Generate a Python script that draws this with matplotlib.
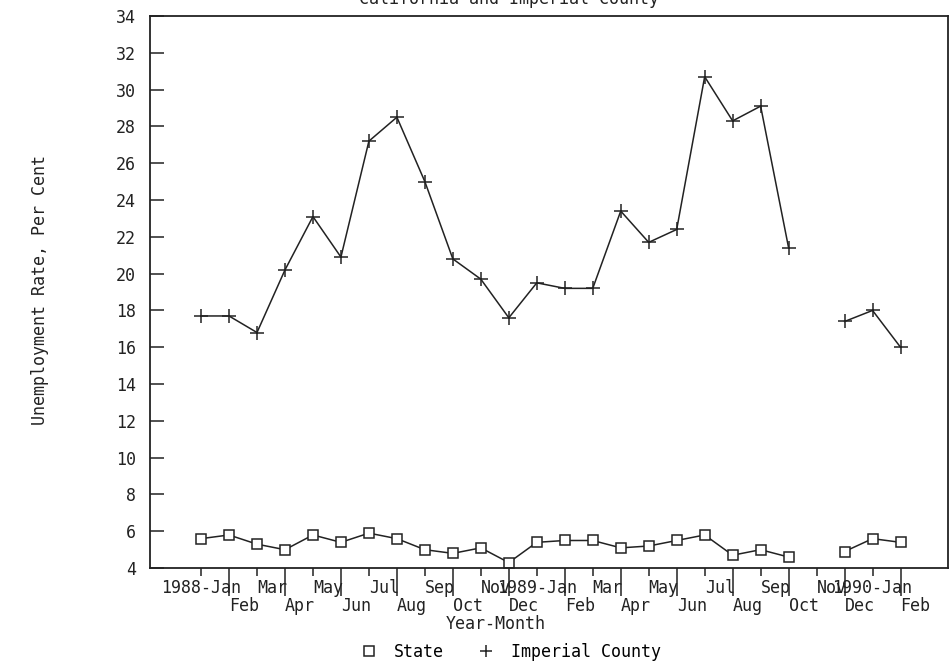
import numpy as np
import matplotlib
matplotlib.use('Agg')
import matplotlib.pyplot as plt
from matplotlib.lines import Line2D

# Month labels, 1988-Jan .. 1990-Feb (1989-Nov has no data)
months = ['1988-Jan', 'Feb', 'Mar', 'Apr', 'May', 'Jun', 'Jul', 'Aug',
          'Sep', 'Oct', 'Nov', 'Dec',
          '1989-Jan', 'Feb', 'Mar', 'Apr', 'May', 'Jun', 'Jul', 'Aug',
          'Sep', 'Oct', 'Nov', 'Dec',
          '1990-Jan', 'Feb']

state = [5.6, 5.8, 5.3, 5.0, 5.8, 5.4, 5.9, 5.6, 5.0, 4.8, 5.1, 4.3,
         5.4, 5.5, 5.5, 5.1, 5.2, 5.5, 5.8, 4.7, 5.0, 4.6, np.nan, 4.9,
         5.6, 5.4]

imperial = [17.7, 17.7, 16.8, 20.2, 23.1, 20.9, 27.2, 28.5, 25.0, 20.8,
            19.7, 17.6, 19.5, 19.2, 19.2, 23.4, 21.7, 22.4, 30.7, 28.3,
            29.1, 21.4, np.nan, 17.4, 18.0, 16.0]

yticks = list(range(4, 35, 2))

FONT = 'DejaVu Sans Mono'
FS = 12
INK = '#222222'

plt.rcParams['font.family'] = FONT
plt.rcParams['font.size'] = FS

fig = plt.figure(figsize=(9.5, 6.66), dpi=100)
ax = fig.add_axes([0.158, 0.147, 0.840, 0.829])

x = np.arange(len(months))

ax.plot(x, state, color=INK, lw=1.1, marker='s', ms=6.5,
        mfc='white', mec=INK, mew=1.1)
ax.plot(x, imperial, color=INK, lw=1.1, marker='+', ms=10, mew=1.1)

ax.set_xlim(-1.82, 26.7)
ax.set_ylim(4, 34)
ax.set_yticks(yticks)
ax.tick_params(axis='y', direction='in', length=10, width=1.1,
               pad=10, colors=INK)

# odd months on the upper row, even months on the lower row
ax.set_xticks(x[0::2])
ax.set_xticklabels(months[0::2])
ax.set_xticks(x[1::2], minor=True)
ax.set_xticklabels(months[1::2], minor=True)
ax.tick_params(axis='x', which='major', direction='out', length=6,
               width=1.1, pad=1.5, colors=INK)
ax.tick_params(axis='x', which='minor', direction='out', length=20,
               width=1.1, pad=1, colors=INK)

for lbl in ax.get_xticklabels(which='both'):
    if '-' in lbl.get_text():
        lbl.set_horizontalalignment('center')
    else:
        lbl.set_horizontalalignment('left')

for s in ax.spines.values():
    s.set_linewidth(1.3)
    s.set_color(INK)

fig.text(509 / 950, 1 + 1 / 666, 'California and Imperial County',
         ha='center', va='center', color=INK)
fig.text(496 / 950, 1 - 624 / 666, 'Year-Month', ha='center',
         va='center', color=INK)
fig.text(40 / 950, 1 - 290 / 666, 'Unemployment Rate, Per Cent',
         rotation=90, ha='center', va='center', color=INK)

handles = [
    Line2D([], [], ls='none', marker='s', ms=6.5, mfc='white', mec=INK,
           mew=1.1),
    Line2D([], [], ls='none', marker='+', ms=9, mec=INK, mew=1.1),
]
fig.legend(handles, ['State', 'Imperial County'], loc='center',
           bbox_to_anchor=(511 / 950, 1 - 652 / 666), ncol=2,
           frameon=False, handlelength=1, handletextpad=1.0,
           columnspacing=2.0)

fig.savefig('out.png', dpi=100)
